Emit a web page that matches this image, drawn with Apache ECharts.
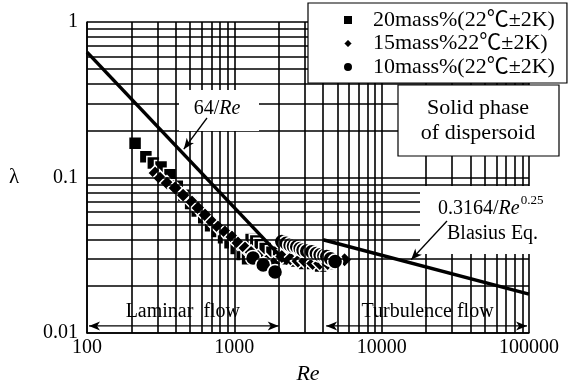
<!DOCTYPE html>
<html>
<head>
<meta charset="utf-8">
<script src="https://cdn.jsdelivr.net/npm/echarts@6/dist/echarts.min.js"></script>
<style>
  html, body { margin: 0; padding: 0; background: #fff; }
  #chart { width: 572px; height: 392px; }
</style>
</head>
<body>
<div id="chart"></div>
<script>
const SERIF = '"Liberation Serif", "Times New Roman", "Noto Sans CJK JP", serif';

// Friction factor λ against Reynolds number for three slurry concentrations
const seriesNames = ['20mass%(22℃±2K)', '15mass%22℃±2K)', '10mass%(22℃±2K)'];

const re20  = [212, 251, 282, 318, 366, 410, 455, 505, 560, 620, 690, 765, 845, 935, 1030, 1130, 1230, 1300, 1400, 1500, 1620, 1800, 2000, 2300, 2650, 3000, 3400, 3850, 4300];
const lam20 = [0.166, 0.136, 0.124, 0.117, 0.104, 0.088, 0.077, 0.068, 0.061, 0.055, 0.049, 0.045, 0.041, 0.038, 0.035, 0.032, 0.030, 0.040, 0.039, 0.037, 0.035, 0.033, 0.031, 0.030, 0.029, 0.028, 0.028, 0.027, 0.028];

const re15  = [290, 313, 349, 396, 449, 516, 567, 633, 706, 775, 864, 964, 1059, 1182, 1300, 1450, 1650, 1850, 2100, 2400, 2700, 3000, 3400, 3800, 4300, 4900, 5600];
const lam15 = [0.107, 0.099, 0.092, 0.0856, 0.077, 0.0695, 0.0637, 0.0574, 0.0517, 0.048, 0.0446, 0.0414, 0.0379, 0.0352, 0.033, 0.031, 0.029, 0.028, 0.031, 0.030, 0.029, 0.029, 0.028, 0.028, 0.028, 0.029, 0.0296];

const re10  = [1340, 1570, 1890, 2100, 2250, 2390, 2520, 2650, 2800, 2925, 3100, 3350, 3600, 3820, 4050, 4240, 4500, 4830];
const lam10 = [0.0304, 0.0274, 0.0247, 0.0387, 0.0378, 0.0368, 0.0362, 0.0359, 0.0350, 0.0342, 0.0337, 0.0333, 0.0325, 0.0318, 0.0314, 0.0310, 0.0300, 0.0288];

const xTickLabels = [100, 1000, 10000, 100000];
const yTickLabels = [0.01, 0.1, 1];

// Reference correlations
const laminarRange  = [100, 2300];     // 64/Re
const blasiusRange  = [4000, 100000];  // 0.3164/Re^0.25
const laminarFlowSpan    = [100, 2000];
const turbulentFlowSpan  = [4200, 100000];
const flowArrowLambda    = 0.0111;
const flowTextLambda     = 0.01365;

const laminar = re => 64 / re;
const blasius = re => 0.3164 / Math.pow(re, 0.25);

const zip = (a, b) => a.map((v, i) => [v, b[i]]);

// full logarithmic grid: 1..9 per decade
const gridX = [];
for (let d = 100; d < 100000; d *= 10) for (let k = 1; k < 10; k++) gridX.push(d * k);
gridX.push(100000);
const gridY = [];
[0.01, 0.1].forEach(d => { for (let k = 1; k < 10; k++) gridY.push(+(d * k).toPrecision(3)); });
gridY.push(1);

const markerStyle = { color: '#000', borderColor: '#fff', borderWidth: 1.5, opacity: 1 };

const chart = echarts.init(document.getElementById('chart'), null, { renderer: 'canvas' });

const option = {
  animation: false,
  backgroundColor: '#fff',
  grid: { left: 87, top: 22, width: 442, height: 311, outerBoundsMode: 'none' },
  xAxis: {
    type: 'log', logBase: 10, min: 100, max: 100000,
    name: 'Re', nameLocation: 'middle', nameGap: 29,
    nameTextStyle: { fontFamily: SERIF, fontStyle: 'italic', fontSize: 22, color: '#000' },
    axisLine: { show: true, lineStyle: { color: '#000', width: 1.5 } },
    axisTick: { show: false },
    splitLine: { show: false },
    axisLabel: {
      margin: 5, color: '#000', fontFamily: SERIF, fontSize: 20,
      formatter: v => String(Math.round(v)),
      customValues: xTickLabels
    }
  },
  yAxis: {
    type: 'log', logBase: 10, min: 0.01, max: 1,
    name: 'λ', nameLocation: 'middle', nameRotate: 0, nameGap: 73,
    nameTextStyle: { fontFamily: SERIF, fontSize: 21, color: '#000', align: 'center', verticalAlign: 'middle' },
    axisLine: { show: true, lineStyle: { color: '#000', width: 1.5 } },
    axisTick: { show: false },
    splitLine: { show: false },
    axisLabel: {
      margin: 9, color: '#000', fontFamily: SERIF, fontSize: 20,
      formatter: v => String(+(+v).toPrecision(3)),
      customValues: yTickLabels
    }
  },
  legend: {
    data: seriesNames,
    orient: 'vertical',
    left: 308, top: 3, z: 30,
    padding: [6, 12, 5, 34],
    itemWidth: 10, itemHeight: 10, itemGap: 1.5,
    backgroundColor: '#fff', borderColor: '#000', borderWidth: 1.2, borderRadius: 0,
    itemStyle: { opacity: 1 },
    textStyle: { fontFamily: SERIF, fontSize: 22, color: '#000', lineHeight: 21, padding: [0, 0, 0, 15] },
    selectedMode: false
  },
  series: [
    {
      name: 'grid', type: 'line', data: [], silent: true, z: 1,
      showSymbol: false, lineStyle: { width: 0 },
      markLine: {
        silent: true, symbol: ['none', 'none'], animation: false,
        label: { show: false },
        lineStyle: { color: '#000', width: 1.6, type: 'solid', opacity: 1 },
        emphasis: { disabled: true },
        data: gridX.map(v => ({ xAxis: v })).concat(gridY.map(v => ({ yAxis: v })))
      }
    },
    { name: seriesNames[0], type: 'scatter', symbol: 'rect', symbolSize: 13, itemStyle: markerStyle, emphasis: { disabled: true }, data: zip(re20, lam20), z: 2 },
    { name: seriesNames[1], type: 'scatter', symbol: 'diamond', symbolSize: 15, itemStyle: markerStyle, emphasis: { disabled: true }, data: zip(re15, lam15), z: 2 },
    { name: seriesNames[2], type: 'scatter', symbol: 'circle', symbolSize: 15, itemStyle: markerStyle, emphasis: { disabled: true }, data: zip(re10, lam10), z: 2 },
    {
      name: '64/Re', type: 'line', silent: true, z: 3, symbol: 'none',
      lineStyle: { color: '#000', width: 3.5 },
      data: laminarRange.map(r => [r, laminar(r)])
    },
    {
      name: 'Blasius', type: 'line', silent: true, z: 3, symbol: 'none',
      lineStyle: { color: '#000', width: 3.5 },
      data: blasiusRange.map(r => [r, blasius(r)])
    }
  ]
};

chart.setOption(option);

// ---- annotations ----
const toPx = (re, lam) => chart.convertToPixel({ gridIndex: 0 }, [re, lam]);
const measureCtx = document.createElement('canvas').getContext('2d');
const textWidth = (str, font) => { measureCtx.font = font; return measureCtx.measureText(str).width; };

function head(tip, from, len, half, notch) {
  const dx = tip[0] - from[0], dy = tip[1] - from[1];
  const L = Math.hypot(dx, dy), ux = dx / L, uy = dy / L, nx = -uy, ny = ux;
  const bx = tip[0] - ux * len, by = tip[1] - uy * len;
  return {
    type: 'polygon', z: 60, silent: true,
    shape: { points: [[tip[0], tip[1]], [bx + nx * half, by + ny * half],
                      [tip[0] - ux * (len - notch), tip[1] - uy * (len - notch)], [bx - nx * half, by - ny * half]] },
    style: { fill: '#000' }
  };
}
function arrow(from, to, both) {
  const els = [{ type: 'line', z: 60, silent: true,
    shape: { x1: from[0], y1: from[1], x2: to[0], y2: to[1] },
    style: { stroke: '#000', lineWidth: 1.3 } }];
  els.push(head(to, from, 11, 4.5, 3));
  if (both) els.push(head(from, to, 11, 4.5, 3));
  return els;
}
const txt = (text, x, y, size, extra) => ({
  type: 'text', z: 55, silent: true,
  style: Object.assign({ text, x, y, fill: '#000', fontFamily: SERIF, fontSize: size, align: 'center', verticalAlign: 'middle' }, extra || {})
});
const whiteBox = (x, y, w, h, stroke) => ({
  type: 'rect', z: 50, silent: true,
  shape: { x, y, width: w, height: h },
  style: { fill: '#fff', stroke: stroke ? '#000' : null, lineWidth: stroke ? 1.2 : 0 }
});

const g = [];

// 64/Re label
g.push(whiteBox(179, 90, 80, 41));
g.push({
  type: 'text', z: 55, silent: true,
  style: { text: '{a|64/}{b|Re}', x: 217, y: 109, align: 'center', verticalAlign: 'middle',
    rich: { a: { fontFamily: SERIF, fontSize: 20, fill: '#000' }, b: { fontFamily: SERIF, fontSize: 20, fontStyle: 'italic', fill: '#000' } } }
});
{
  const onLine = toPx(440, laminar(440));
  g.push(...arrow([207, 118], [onLine[0] + 2, onLine[1] - 3]));
}

// Blasius label
g.push(whiteBox(420, 186, 140, 68));
{
  const f1 = '20px ' + SERIF, f2 = 'italic 20px ' + SERIF;
  const x0 = 438;
  g.push({
    type: 'text', z: 55, silent: true,
    style: { text: '{a|0.3164/}{b|Re}', x: x0, y: 209, align: 'left', verticalAlign: 'middle',
      rich: { a: { fontFamily: SERIF, fontSize: 20, fill: '#000' }, b: { fontFamily: SERIF, fontSize: 20, fontStyle: 'italic', fill: '#000' } } }
  });
  const w = textWidth('0.3164/', f1) + textWidth('Re', f2);
  g.push(txt('0.25', x0 + w + 1, 201, 13, { align: 'left' }));
  g.push(txt('Blasius Eq.', 447, 234, 20, { align: 'left' }));
  const onLine = toPx(15600, blasius(15600));
  g.push(...arrow([447, 221], [onLine[0] + 1, onLine[1] - 3]));
}

// dispersed phase note
g.push(whiteBox(398, 85, 161, 71, true));
g.push(txt('Solid phase\nof dispersoid', 478, 121, 22, { lineHeight: 25 }));

// flow regime spans
{
  const a0 = toPx(laminarFlowSpan[0], flowArrowLambda), a1 = toPx(laminarFlowSpan[1], flowArrowLambda);
  g.push(...arrow([a0[0] + 2, a0[1]], a1, true));
  const t = toPx(Math.sqrt(laminarFlowSpan[0] * laminarFlowSpan[1]), flowTextLambda);
  g.push(txt('Laminar  flow', t[0], t[1], 20));
  const b0 = toPx(turbulentFlowSpan[0], flowArrowLambda), b1 = toPx(turbulentFlowSpan[1], flowArrowLambda);
  g.push(...arrow(b0, [b1[0] - 2, b1[1]], true));
  const u = toPx(Math.sqrt(turbulentFlowSpan[0] * turbulentFlowSpan[1]), flowTextLambda);
  g.push(txt('Turbulence flow', u[0], u[1], 20));
}

chart.setOption({ graphic: g });
</script>
</body>
</html>
